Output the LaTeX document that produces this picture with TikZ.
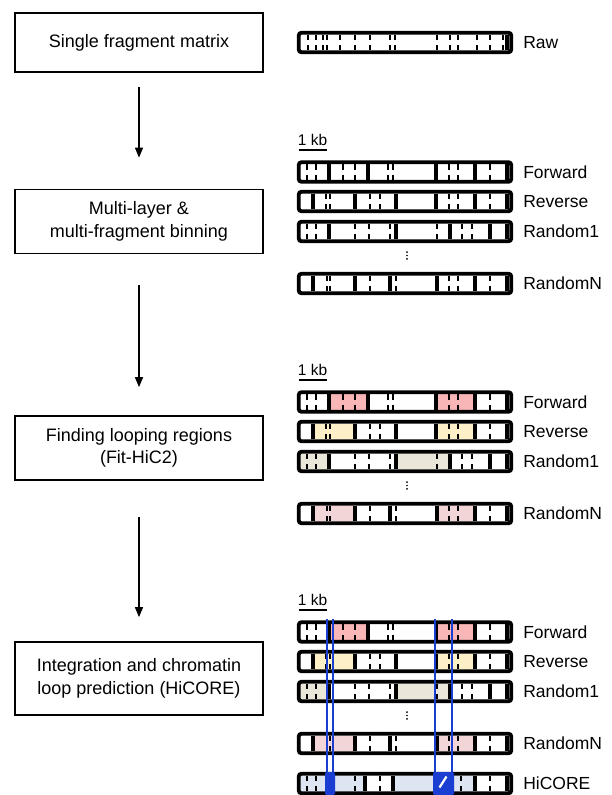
\documentclass[tikz,border=0pt]{standalone}
\usepackage{fontspec}
\setmainfont{Liberation Sans}
\usetikzlibrary{arrows.meta,positioning}
\definecolor{ink}{HTML}{000000}
\definecolor{fwdfill}{HTML}{F9B6B6}
\definecolor{revfill}{HTML}{FDF0C7}
\definecolor{rndfill}{HTML}{EAE6DA}
\definecolor{rnnfill}{HTML}{F2D5D6}
\definecolor{corefill}{HTML}{DCE5F1}
\definecolor{loopblue}{HTML}{1A3ED2}
% one binned fragment: name, centre y, full cuts, half cuts
\newcommand{\fragbar}[4]{%
  \node[frame] (#1) at (405,#2) {};
  \foreach \u in #3 \draw[cut] (\u,#2-7.9) -- (\u,#2+7.9);
  \foreach \u in #4 \draw[nick] (\u,#2-7.9) -- (\u,#2-2.5) (\u,#2+2.5) -- (\u,#2+7.9);
}
\newcommand{\rawnick}{308,316,323,327,340,355,370,390,395,437,450,458,477,490,503}
\newcommand{\fwdcut}{329,368,436,475,507}
\newcommand{\fwdnick}{307,316,343,355,388,393,449,458,490}
\newcommand{\revcut}{313,355,396,436,475,507}
\newcommand{\revnick}{326,330,370,380,449,458,490}
\newcommand{\rndcut}{329,396,450,490,507}
\newcommand{\rndnick}{307,316,355,369,390,437,462,472}
\newcommand{\rnncut}{313,355,390,437,475,507}
\newcommand{\rnnnick}{327,330,370,396,449,458,490}
\newcommand{\corecut}{365,393,475,507}
\newcommand{\corenick}{307,316,355,380,461,490}

\begin{document}
\begin{tikzpicture}[x=1pt,y=-1pt,
  stage/.style={draw=ink,line width=1.7pt,minimum width=248pt,align=center,
                inner sep=0pt,font=\fontsize{18}{22.5}\selectfont},
  flow/.style={line width=1.3pt,-{Triangle[length=10pt,width=8pt]}},
  frame/.style={draw=ink,line width=3.8pt,rounded corners=2.5pt,inner sep=0pt,
                minimum width=212.4pt,minimum height=19.4pt},
  cut/.style={ink,line width=3.4pt},
  nick/.style={ink,line width=1.8pt},
  lbl/.style={inner sep=0pt,font=\fontsize{17.5}{20}\selectfont},
  kb/.style={inner sep=0pt,font=\fontsize{15.5}{18}\selectfont},
  loopline/.style={loopblue,line width=2.8pt}]
\useasboundingbox (0,0) rectangle (612,795);

% ---------------- pipeline steps
\node[stage,minimum height=59pt] (single)  at (139,42.5)  {Single fragment matrix};
\node[stage,minimum height=64pt] (multi)   at (139,221.5) {Multi-layer \&\\multi-fragment binning};
\node[stage,minimum height=64pt] (finding) at (139,448)   {Finding looping regions\\(Fit-HiC2)};
\node[stage,minimum height=73pt] (integ)   at (139,678.5) {Integration and chromatin\\loop prediction (HiCORE)};

\draw[flow,shorten <=14pt,shorten >=31pt] (single) -- (multi);
\draw[flow,shorten <=31pt,shorten >=28pt] (multi) -- (finding);
\draw[flow,shorten <=36pt,shorten >=24pt] (finding) -- (integ);

% ---------------- raw fragments
\fragbar{raw}{42.5}{{507}}{\rawnick}
\node[lbl,right=10pt of raw] (rawlbl) {Raw};

% ---------------- looping regions, coloured under the cuts
\foreach \s in {230,460}{
  \begin{scope}[shift={(0,\s)}]
    \fill[fwdfill] (329,172-7.9) rectangle (368,172+7.9)
                   (436,172-7.9) rectangle (475,172+7.9);
    \fill[revfill] (313,201.5-7.9) rectangle (355,201.5+7.9)
                   (436,201.5-7.9) rectangle (475,201.5+7.9);
    \fill[rndfill] (300,231.5-7.9) rectangle (329,231.5+7.9)
                   (396,231.5-7.9) rectangle (450,231.5+7.9);
    \fill[rnnfill] (313,283.5-7.9) rectangle (355,283.5+7.9)
                   (437,283.5-7.9) rectangle (475,283.5+7.9);
  \end{scope}}
\fill[corefill] (300,783.5-7.9) rectangle (365,783.5+7.9)
                (393,783.5-7.9) rectangle (475,783.5+7.9);

% ---------------- the four binnings, three times
\foreach \s/\t in {0/A,230/B,460/C}{
  \begin{scope}[shift={(0,\s)}]
    \node[kb] (kb\t) at (312.5,140) {1 kb};
    \draw[ink,line width=2.4pt] (298.5,150) -- (326.5,150);
    \fragbar{fwd\t}{172}{\fwdcut}{\fwdnick}
    \node[lbl,right=10pt of fwd\t] (fwdlbl\t) {Forward};
    \fragbar{rev\t}{201.5}{\revcut}{\revnick}
    \node[lbl,right=10pt of rev\t] (revlbl\t) {Reverse};
    \fragbar{rnd\t}{231.5}{\rndcut}{\rndnick}
    \node[lbl,right=10pt of rnd\t] (rndlbl\t) {Random1};
    \foreach \d in {-3.4,0,3.4} \fill[ink] (407,255.5+\d) circle (0.95pt);
    \fragbar{rnn\t}{283.5}{\rnncut}{\rnnnick}
    \node[lbl,right=10pt of rnn\t] (rnnlbl\t) {RandomN};
  \end{scope}}

% ---------------- integrated loops
\fragbar{core}{783.5}{\corecut}{\corenick}
\node[lbl,right=10pt of core] (corelbl) {HiCORE};
\fill[loopblue,rounded corners=1.5pt] (325,772) rectangle (335,795)
                                      (433,772) rectangle (454,795);
\draw[white,line width=2.2pt] (439.5,787.5) -- (446.5,776.5);
\foreach \u in {327,333,435,452} \draw[loopline] (\u,619) -- (\u,795);
\end{tikzpicture}
\end{document}
